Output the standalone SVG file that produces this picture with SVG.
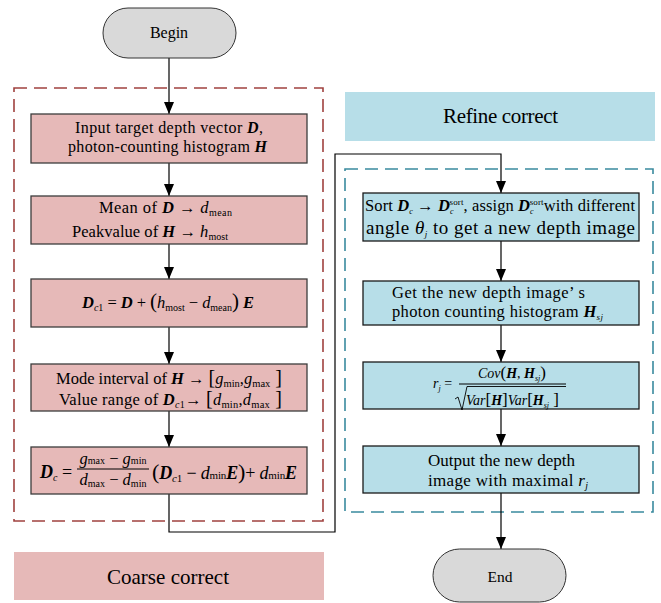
<svg xmlns="http://www.w3.org/2000/svg" width="661" height="603" viewBox="0 0 661 603" font-family="'Liberation Serif', 'Times New Roman', serif" font-size="16">
<defs>
<marker id="ah" markerUnits="userSpaceOnUse" markerWidth="12" markerHeight="10" viewBox="0 0 12 10" refX="12" refY="5" orient="auto">
<path d="M0,0 L12,5 L0,10 Z" fill="#000"/>
</marker>
</defs>
<style>
text{font-family:'Liberation Serif','Times New Roman',serif;fill:#000}
.pk{fill:#E6B9B8;stroke:#3c3c3c;stroke-width:1.3}
.bl{fill:#B7DEE8;stroke:#1a1a1a;stroke-width:1.3}
.term{fill:#D9D9D9;stroke:#333;stroke-width:1}
.c{fill:none;stroke:#000;stroke-width:1.2}
.bi{font-weight:bold;font-style:italic}
.i{font-style:italic}
.rd{fill:none;stroke:#A0413F;stroke-width:1.6;stroke-dasharray:13 7}
.bd{fill:none;stroke:#3A8A9E;stroke-width:1.6;stroke-dasharray:13 7}
</style>

<g id="groups">
<rect class="rd" x="14" y="88" width="309" height="433"/>
<rect class="bd" x="345" y="169" width="308" height="343"/>
</g>

<g id="label-refine">
<rect x="345" y="92" width="310" height="49" fill="#B7DEE8"/>
<text x="443" y="123" font-size="21" textLength="115">Refine correct</text>
</g>
<g id="label-coarse">
<rect x="14" y="552" width="310" height="48" fill="#E6B9B8"/>
<text x="107" y="584" font-size="21" textLength="122">Coarse correct</text>
</g>

<g id="connectors">
<line class="c" x1="169" y1="58" x2="169" y2="114" marker-end="url(#ah)"/>
<line class="c" x1="169" y1="163" x2="169" y2="196" marker-end="url(#ah)"/>
<line class="c" x1="169" y1="244" x2="169" y2="279" marker-end="url(#ah)"/>
<line class="c" x1="169" y1="327" x2="169" y2="364" marker-end="url(#ah)"/>
<line class="c" x1="169" y1="411" x2="169" y2="447" marker-end="url(#ah)"/>
<polyline class="c" points="169,494 169,532 335,532 335,154 501,154 501,193" marker-end="url(#ah)"/>
<line class="c" x1="501" y1="241" x2="501" y2="281" marker-end="url(#ah)"/>
<line class="c" x1="501" y1="325" x2="501" y2="362" marker-end="url(#ah)"/>
<line class="c" x1="501" y1="409" x2="501" y2="446" marker-end="url(#ah)"/>
<line class="c" x1="501" y1="493" x2="501" y2="549" marker-end="url(#ah)"/>
</g>

<g id="begin">
<rect class="term" x="103" y="8" width="133" height="50" rx="25" ry="25"/>
<text x="169" y="38" text-anchor="middle" font-size="16">Begin</text>
</g>

<g id="input">
<rect class="pk" x="31" y="114" width="276" height="49"/>
<text x="75" y="133" font-size="16" textLength="188">Input target depth vector <tspan class="bi">D</tspan>,</text>
<text x="68" y="152" font-size="16" textLength="199">photon-counting histogram <tspan class="bi">H</tspan></text>
</g>

<g id="mean">
<rect class="pk" x="31" y="196" width="276" height="48"/>
<text x="99" y="213" font-size="16.5" textLength="133">Mean of <tspan class="bi">D</tspan> → <tspan class="i">d</tspan><tspan font-size="10" dy="3">mean</tspan></text>
<text x="72" y="237" font-size="16.5" textLength="156">Peakvalue of <tspan class="bi">H</tspan> → <tspan class="i">h</tspan><tspan font-size="10" dy="3">most</tspan></text>
</g>

<g id="dc1">
<rect class="pk" x="31" y="279" width="276" height="48"/>
<text x="82" y="308" font-size="16.5" textLength="172"><tspan class="bi">D</tspan><tspan class="i" font-size="10" dy="3">c</tspan><tspan font-size="10">1</tspan><tspan dy="-3"> = </tspan><tspan class="bi">D</tspan> + <tspan font-size="21">(</tspan><tspan class="i">h</tspan><tspan font-size="10" dy="3">most</tspan><tspan dy="-3"> − </tspan><tspan class="i">d</tspan><tspan font-size="10" dy="3">mean</tspan><tspan dy="-3" font-size="21">)</tspan> <tspan class="bi">E</tspan></text>
</g>

<g id="range">
<rect class="pk" x="31" y="364" width="276" height="47"/>
<text x="56" y="384" font-size="16.5" textLength="226">Mode interval of <tspan class="bi">H</tspan> → <tspan font-size="20">[</tspan><tspan class="i">g</tspan><tspan font-size="10.5" dy="3">min</tspan><tspan dy="-3">,</tspan><tspan class="i">g</tspan><tspan font-size="10.5" dy="3">max</tspan><tspan dy="-3" font-size="20"> ]</tspan></text>
<text x="59" y="405" font-size="16.5" textLength="223">Value range of  <tspan class="bi">D</tspan><tspan class="i" font-size="10" dy="3">c</tspan><tspan font-size="10">1</tspan><tspan dy="-3">→ </tspan><tspan font-size="20">[</tspan><tspan class="i">d</tspan><tspan font-size="10.5" dy="3">min</tspan><tspan dy="-3">,</tspan><tspan class="i">d</tspan><tspan font-size="10.5" dy="3">max</tspan><tspan dy="-3" font-size="20"> ]</tspan></text>
</g>

<g id="dc">
<rect class="pk" x="31" y="447" width="276" height="47"/>
<text x="40" y="478" font-size="18"><tspan class="bi">D</tspan><tspan class="i" font-size="10" dy="3">c</tspan><tspan dy="-3"> =</tspan></text>
<text x="113" y="464" font-size="16.5" text-anchor="middle"><tspan class="i">g</tspan><tspan font-size="10">max</tspan> − <tspan class="i">g</tspan><tspan font-size="10">min</tspan></text>
<line x1="77" y1="469" x2="149" y2="469" stroke="#000" stroke-width="1"/>
<text x="113" y="485" font-size="16.5" text-anchor="middle"><tspan class="i">d</tspan><tspan font-size="10" dy="2">max</tspan><tspan dy="-2"> − </tspan><tspan class="i">d</tspan><tspan font-size="10" dy="2">min</tspan></text>
<text x="152" y="479" font-size="18" textLength="145"><tspan font-size="22">(</tspan><tspan class="bi">D</tspan><tspan class="i" font-size="11" dy="3">c</tspan><tspan font-size="11">1</tspan><tspan dy="-3"> − </tspan><tspan class="i">d</tspan><tspan font-size="11">min</tspan><tspan class="bi">E</tspan><tspan font-size="22">)</tspan>+ <tspan class="i">d</tspan><tspan font-size="11">min</tspan><tspan class="bi">E</tspan></text>
</g>

<g id="sort">
<rect class="bl" x="363" y="193" width="276" height="48"/>
<text x="365" y="211" font-size="16.5" textLength="270">Sort <tspan class="bi">D</tspan><tspan class="i" font-size="8" dy="3">c</tspan><tspan dy="-3"> → </tspan><tspan class="bi">D</tspan><tspan class="i" font-size="8" dy="3">c</tspan><tspan font-size="9" dx="-4" dy="-9">sort</tspan><tspan dy="6">, assign </tspan><tspan class="bi">D</tspan><tspan class="i" font-size="8" dy="3">c</tspan><tspan font-size="9" dx="-4" dy="-9">sort</tspan><tspan dy="6">with different</tspan></text>
<text x="366" y="234" font-size="19" textLength="269">angle <tspan class="i">θ</tspan><tspan class="i" font-size="9" dy="3">j</tspan><tspan dy="-3"> to get a new depth image</tspan></text>
</g>

<g id="hist">
<rect class="bl" x="363" y="281" width="276" height="44"/>
<text x="392" y="298" font-size="16.5" textLength="193">Get the new depth image’ s</text>
<text x="392" y="317" font-size="16.5" textLength="211">photon counting histogram  <tspan class="bi">H</tspan><tspan class="i" font-size="9" dy="3">sj</tspan></text>
</g>

<g id="corr">
<rect class="bl" x="363" y="362" width="276" height="47"/>
<text x="433" y="388" font-size="14"><tspan class="i">r</tspan><tspan class="i" font-size="8" dy="3">j</tspan><tspan dy="-3"> =</tspan></text>
<text x="512" y="378" font-size="14" text-anchor="middle"><tspan class="i">Cov</tspan><tspan font-size="17">(</tspan><tspan class="bi">H</tspan>, <tspan class="bi">H</tspan><tspan class="i" font-size="8" dy="3">sj</tspan><tspan dy="-3" font-size="17">)</tspan></text>
<line x1="459" y1="384" x2="566" y2="384" stroke="#000" stroke-width="1"/>
<path d="M455,399 L458,397 L462,410 L467,386.5 L566,386.5" fill="none" stroke="#000" stroke-width="0.9"/>
<text x="466" y="405" font-size="14"><tspan class="i">Var</tspan><tspan font-size="17">[</tspan><tspan class="bi">H</tspan><tspan font-size="17">]</tspan><tspan class="i">Var</tspan><tspan font-size="17">[</tspan><tspan class="bi">H</tspan><tspan class="i" font-size="8" dy="3">sj</tspan><tspan dy="-3" font-size="17"> ]</tspan></text>
</g>

<g id="output">
<rect class="bl" x="363" y="446" width="276" height="47"/>
<text x="428" y="466" font-size="17" textLength="147">Output the new depth</text>
<text x="428" y="486" font-size="17" textLength="160">image with maximal  <tspan class="i">r</tspan><tspan class="i" font-size="10" dy="3">j</tspan></text>
</g>

<g id="end">
<rect class="term" x="433" y="549" width="133" height="53" rx="26.5" ry="26.5"/>
<text x="500" y="582" text-anchor="middle" font-size="15.5">End</text>
</g>
</svg>
